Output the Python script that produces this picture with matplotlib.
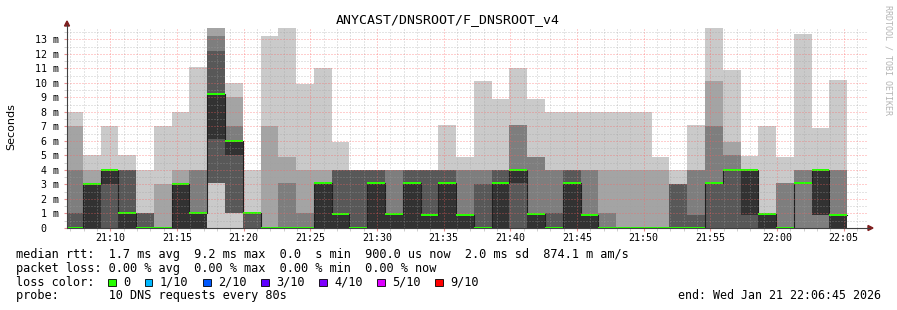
import datetime as dt

import numpy as np
import matplotlib

matplotlib.use("Agg")
import matplotlib.pyplot as plt
import matplotlib.dates as mdates
from matplotlib.patches import Polygon, Rectangle
from matplotlib.lines import Line2D
from matplotlib.ticker import MultipleLocator, FuncFormatter

# ---- data: 10 sorted DNS response times (ms) per 80 s step, rank p1..p10 ----
p1 = [0] * 44
p2 = [0, 0, 0, 0, 0, 0, 0, 0, 3.1, 1, 0, 0, 0, 0, 0, 0, 0, 0, 0, 0, 0, 0,
      0, 0, 0, 0, 0, 0, 0, 0, 0, 0, 0, 0, 0, 0, 0, 0, 0, 0, 0, 0, 0, 0]
p3 = [0, 0, 0, 0, 0, 0, 0, 0, 3.1, 1, 0, 0, 0, 0, 0, 0, 0, 0, 0, 0, 0, 0,
      0, 0, 0, 0, 0, 0, 0, 0, 0, 0, 0, 0, 0, 0, 0, 0, 0, 0, 0, 0, 0, 0]
p4 = [0, 0, 0, 0, 0, 0, 0, 0, 3.1, 1, 0, 0, 0, 0, 0, 0, 0, 0, 0, 0, 0, 0,
      0, 0, 0, 0, 0, 0, 0, 0, 0, 0, 0, 0, 0, 0, 0, 0, 0, 0, 0, 3.1, 0.9, 0]
p5 = [0, 0, 3, 0, 0, 0, 0, 0, 6.1, 5, 1, 0, 0, 0, 0, 0, 0, 0, 0, 0, 0, 0,
      0, 0, 0, 3.1, 0, 0, 0, 0, 0, 0, 0, 0, 0, 0, 3.1, 4, 0.9, 0, 0, 3.1, 0.9, 0]
p6 = [0, 3, 4, 1, 0, 0, 3, 1, 9.2, 6, 1, 0, 0, 0, 3.1, 0.95, 0, 3.1, 0.95, 3.1, 0.9, 3.1,
      0.9, 0, 3.1, 4, 0.95, 0, 3.1, 0.9, 0, 0, 0, 0, 0, 0, 3.1, 4, 4, 0.95, 0, 3.1, 4, 0.9]
p7 = [1, 3, 4, 4, 1, 0, 3, 1, 12.2, 6, 1, 0, 0, 0, 3.1, 4, 4, 4, 0.95, 4, 4, 4,
      0.9, 3, 4, 4, 0.95, 1, 4, 0.9, 0, 0, 0, 0, 3, 0.9, 3.1, 4, 4, 0.95, 0, 3.1, 4, 0.9]
p8 = [4, 3, 4, 4, 1, 0, 3, 4, 13.2, 7, 1, 0, 3.1, 1, 3.1, 4, 4, 4, 4, 4, 4, 4,
      4, 4, 4, 7.1, 4.9, 4, 4, 4, 1, 0, 0, 0, 3, 4, 7, 5, 4, 0.95, 3.07, 4, 4, 4]
p9 = [7, 4, 4, 4, 1, 3, 4, 4, 14.4, 9, 1, 7, 4.9, 4, 4, 4, 4, 4, 4, 4, 4, 4,
      4, 4, 4, 7.1, 4.9, 4, 4, 4, 4, 4, 4, 4, 3, 4, 10.1, 5.9, 4, 0.95, 3.07, 4, 4, 4]
p10 = [8, 5.05, 7.05, 5.05, 4, 7.05, 8, 11.1, 15, 10, 4, 13.2, 14.5, 9.9, 11.05, 5.94, 4, 4, 4, 4, 4, 7.1,
       4.9, 10.1, 8.9, 11.05, 8.9, 8, 8, 8, 8, 8, 8, 4.9, 4, 7.1, 14.5, 10.9, 4.95, 7, 4.9, 13.35, 6.9, 10.2]
median_ms = p6

first_step_end = dt.datetime(2026, 1, 21, 21, 7, 56)
step_s = 80
view_start = dt.datetime(2026, 1, 21, 21, 6, 45)
view_end = dt.datetime(2026, 1, 21, 22, 6, 45)

title = "ANYCAST/DNSROOT/F_DNSROOT_v4"
legend_lines = [
    "median rtt:  1.7 ms avg  9.2 ms max  0.0  s min  900.0 us now  2.0 ms sd  874.1 m am/s",
    "packet loss: 0.00 % avg  0.00 % max  0.00 % min  0.00 % now",
    "loss color:",
    "probe:       10 DNS requests every 80s",
]
loss_labels = ["0", "1/10", "2/10", "3/10", "4/10", "5/10", "9/10"]
loss_colors = ["#26ff00", "#00b8ff", "#0059ff", "#5e00ff", "#7e00ff", "#dd00ff", "#ff0000"]
end_label = "end: Wed Jan 21 22:06:45 2026"

smoke_colors = ["#cacaca", "#a4a4a4", "#7e7e7e", "#585858", "#323232"]

W, H = 897, 310
MONO = "DejaVu Sans Mono"


def fx(x):
    return x / W


def fy(y):
    return 1 - y / H


fig = plt.figure(figsize=(W / 100, H / 100), dpi=100)
fig.patch.set_facecolor("white")
ax = fig.add_axes([fx(67), fy(228), 800 / W, 200 / H])

ends = mdates.date2num([first_step_end + dt.timedelta(seconds=step_s * k) for k in range(len(p1))])
width = step_s / 86400.0
left = ends - width

ranks = [np.array(p, dtype=float) for p in (p1, p2, p3, p4, p5, p6, p7, p8, p9, p10)]
for i, col in enumerate(smoke_colors):
    lo, hi = ranks[i], ranks[9 - i]
    ax.bar(left, hi - lo, bottom=lo, width=width, align="edge", color=col,
           linewidth=0, antialiased=False, zorder=1)

ymax = 13.78
med = np.array(median_ms, dtype=float)
ax.step(np.r_[left[0], ends], np.r_[med[0], med], where="pre", color="#202020", lw=0.8, zorder=2)
sw = ymax / 200
ax.bar(left, 2 * sw, bottom=med - sw, width=width, align="edge", color=loss_colors[0],
       linewidth=0, antialiased=False, zorder=2.2)

ax.set_xlim(mdates.date2num(view_start), mdates.date2num(view_end))
ax.set_ylim(0, ymax)

ax.xaxis.set_major_locator(mdates.MinuteLocator(byminute=range(0, 60, 5)))
ax.xaxis.set_minor_locator(mdates.MinuteLocator())
ax.xaxis.set_major_formatter(mdates.DateFormatter("%H:%M"))
ax.yaxis.set_major_locator(MultipleLocator(1))
ax.yaxis.set_minor_locator(MultipleLocator(0.5))
ax.yaxis.set_major_formatter(FuncFormatter(lambda v, _: "0  " if v == 0 else f"{v:.0f} m"))

ax.set_axisbelow(False)
ax.grid(which="minor", color="#a0a0a0", alpha=0.55, lw=0.72, linestyle=(0, (1, 2)))
ax.grid(which="major", color="#ff5f5f", alpha=0.6, lw=0.72, linestyle=(0, (1, 2)))

ax.tick_params(axis="both", which="both", labelsize=7.2, direction="out")
ax.tick_params(axis="x", which="major", length=2, pad=1.5, color="#e89090")
ax.tick_params(axis="x", which="minor", length=2, color="#c8c8c8")
ax.tick_params(axis="y", which="major", length=2, pad=3.6, color="#e89090")
ax.tick_params(axis="y", which="minor", length=2, color="#c8c8c8")
for lab in ax.get_xticklabels() + ax.get_yticklabels():
    lab.set_family(MONO)

for s in ax.spines.values():
    s.set_visible(False)

# axes with arrows
axis_col = "#404040"
fig.add_artist(Line2D([fx(67), fx(67)], [fy(228), fy(25)], color=axis_col, lw=0.8))
fig.add_artist(Line2D([fx(67), fx(869)], [fy(228), fy(228)], color=axis_col, lw=0.8))
fig.add_artist(Polygon([(fx(64.5), fy(26)), (fx(69.5), fy(26)), (fx(67), fy(21))],
                       closed=True, color="#7f1f1f", transform=fig.transFigure))
fig.add_artist(Polygon([(fx(868), fy(225.5)), (fx(868), fy(230.5)), (fx(873), fy(228))],
                       closed=True, color="#7f1f1f", transform=fig.transFigure))

fig.text(fx(448), fy(19.3), title, ha="center", va="center", fontsize=9.5, family=MONO)
fig.text(fx(11), fy(127), "Seconds", rotation=90, ha="center", va="center", fontsize=8,
         family="DejaVu Sans")
fig.text(fx(888), fy(60), "RRDTOOL / TOBI OETIKER", rotation=270, ha="center", va="center",
         fontsize=6, color="#b4b4b4", family=MONO)

LEG_FS = 8.55
line_y = [254.3, 268.3, 282.3, 295.7]
for txt, y in zip(legend_lines, line_y):
    fig.text(fx(16), fy(y), txt, ha="left", va="center", fontsize=LEG_FS, family=MONO)

char_w = 7.14
x = 108.3
for lab, col in zip(loss_labels, loss_colors):
    fig.add_artist(Rectangle((fx(x), fy(286)), 7.5 / W, 7.5 / H, facecolor=col,
                             edgecolor="black", lw=0.6, transform=fig.transFigure))
    fig.text(fx(x + 15), fy(282.3), lab, ha="left", va="center", fontsize=LEG_FS, family=MONO)
    x = x + 15 + len(lab) * char_w + 14.5

fig.text(fx(881), fy(295.7), end_label, ha="right", va="center", fontsize=8.36, family=MONO)

fig.savefig("out.png", dpi=100, facecolor="white")
